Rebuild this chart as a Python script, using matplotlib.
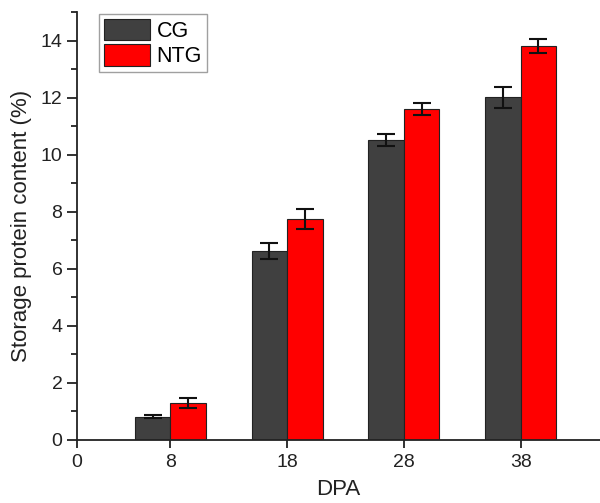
import numpy as np
import matplotlib.pyplot as plt
from matplotlib.ticker import MultipleLocator

dpa = [8, 18, 28, 38]
cg = [0.82, 6.64, 10.53, 12.01]
cg_err = [0.05, 0.28, 0.21, 0.37]
ntg = [1.29, 7.75, 11.60, 13.82]
ntg_err = [0.17, 0.34, 0.20, 0.25]

plt.rcParams['font.family'] = ['Liberation Sans', 'DejaVu Sans']

fig = plt.figure(figsize=(6.0, 5.03), dpi=100)
ax = fig.add_axes([77 / 600, 63 / 503, 523 / 600, 428 / 503])

x = np.array(dpa, dtype=float)
w = 3.05
ax.bar(x - w / 2, cg, w, yerr=cg_err, color='#404040', edgecolor='#222222',
       linewidth=0.8, label='CG', capsize=6.5,
       error_kw=dict(elinewidth=1.5, capthick=1.5, ecolor='#111111'))
ax.bar(x + w / 2, ntg, w, yerr=ntg_err, color='#ff0000', edgecolor='#222222',
       linewidth=0.8, label='NTG', capsize=6.5,
       error_kw=dict(elinewidth=1.5, capthick=1.5, ecolor='#111111'))

ax.set_xlim(0, 44.8)
ax.set_ylim(0, 15)
ax.set_xticks([0] + dpa)
ax.set_xticklabels(['0'] + [str(d) for d in dpa])
ax.yaxis.set_major_locator(MultipleLocator(2))
ax.yaxis.set_minor_locator(MultipleLocator(1))

for side in ['top', 'right']:
    ax.spines[side].set_visible(False)
for side in ['left', 'bottom']:
    ax.spines[side].set_linewidth(1.3)
    ax.spines[side].set_color('#222222')

ax.tick_params(axis='both', which='major', direction='out', length=7,
               width=1.3, labelsize=14, colors='#222222', labelcolor='#222222')
ax.tick_params(axis='y', which='minor', direction='out', length=4, width=1.3,
               colors='#222222')
ax.tick_params(axis='x', which='major', length=6, pad=4)

ax.set_xlabel('DPA', fontsize=16, color='#222222', labelpad=6)
ax.set_ylabel('Storage protein content (%)', fontsize=16, color='#222222',
              labelpad=6)

leg = ax.legend(loc='upper left', bbox_to_anchor=(0.042, 0.995), fontsize=15.5,
                frameon=True, fancybox=False, handlelength=2.15,
                handleheight=1.15, borderpad=0.22, labelspacing=0.12,
                handletextpad=0.3, borderaxespad=0.0)
leg.get_frame().set_edgecolor('#888888')
leg.get_frame().set_linewidth(1.0)

fig.savefig('out.png', dpi=100)
